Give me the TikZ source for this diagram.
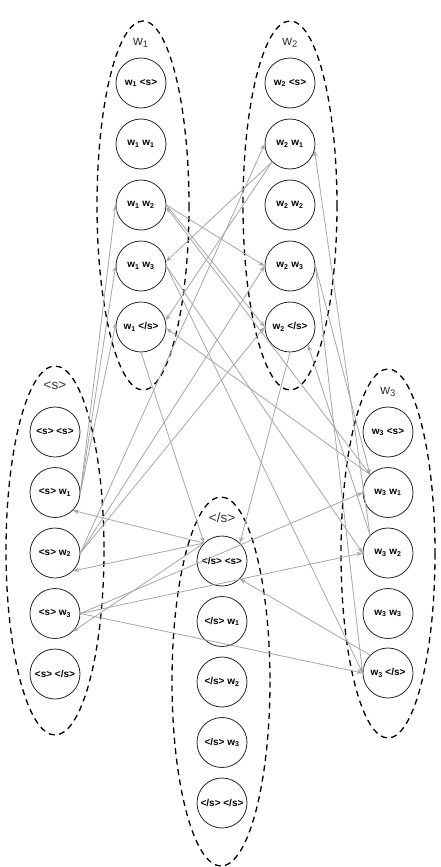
\documentclass[tikz,border=0pt]{standalone}
\usepackage{fontspec}
\setmainfont{Liberation Sans}
\usetikzlibrary{arrows.meta}
\newcommand\wsub[1]{w\textsubscript{#1}}
\begin{document}
\begin{tikzpicture}[x=1pt,y=-1pt,
  st/.style={circle,draw=black!85,line width=0.8pt,minimum size=50pt,inner sep=0pt,font=\bfseries\fontsize{10}{11}\selectfont},
  grp/.style={draw=black,line width=1.3pt,dash pattern=on 6pt off 4.5pt},
  glab/.style={font=\fontsize{13.5}{14}\selectfont,text=black!80},
  ed/.style={draw=black!35,line width=0.8pt,-{Stealth[length=6pt,width=4.5pt]}}]
\useasboundingbox (0,0) rectangle (441,867);
% groups
\draw[grp] (143,205.5) ellipse [x radius=46, y radius=184.5];
\draw[grp] (290,205.5) ellipse [x radius=47, y radius=184.5];
\draw[grp] (55,550.5) ellipse [x radius=49, y radius=184.5];
\draw[grp] (388,553.5) ellipse [x radius=47, y radius=184.5];
\draw[grp] (221,681.5) ellipse [x radius=49, y radius=184.5];
\node[glab] (l1) at (141,43) {\wsub{1}};
\node[glab] (l2) at (290,43) {\wsub{2}};
\node[glab] (ls) at (55,386) {<s>};
\node[glab] (l3) at (388,392) {\wsub{3}};
\node[glab] (le) at (222,518) {</s>};
% w1 group
\node[st] (a1s) at (141,83) {\wsub{1} <s>};
\node[st] (a11) at (141,144) {\wsub{1} \wsub{1}};
\node[st] (a12) at (141,205) {\wsub{1} \wsub{2}};
\node[st] (a13) at (141,266) {\wsub{1} \wsub{3}};
\node[st] (a1e) at (141,327) {\wsub{1} </s>};
% w2 group
\node[st] (a2s) at (290,83) {\wsub{2} <s>};
\node[st] (a21) at (290,144) {\wsub{2} \wsub{1}};
\node[st] (a22) at (290,205) {\wsub{2} \wsub{2}};
\node[st] (a23) at (290,266) {\wsub{2} \wsub{3}};
\node[st] (a2e) at (290,327) {\wsub{2} </s>};
% <s> group
\node[st] (sss) at (55,432) {<s> <s>};
\node[st] (ss1) at (55,492.5) {<s> \wsub{1}};
\node[st] (ss2) at (55,553) {<s> \wsub{2}};
\node[st] (ss3) at (55,613.5) {<s> \wsub{3}};
\node[st] (sse) at (55,674) {<s> </s>};
% w3 group
\node[st] (a3s) at (388,432) {\wsub{3} <s>};
\node[st] (a31) at (388,492.5) {\wsub{3} \wsub{1}};
\node[st] (a32) at (388,553) {\wsub{3} \wsub{2}};
\node[st] (a33) at (388,613.5) {\wsub{3} \wsub{3}};
\node[st] (a3e) at (388,673) {\wsub{3} </s>};
% </s> group
\node[st] (es) at (222,561) {</s> <s>};
\node[st] (e1) at (222,621.5) {</s> \wsub{1}};
\node[st] (e2) at (222,682) {</s> \wsub{2}};
\node[st] (e3) at (222,742.5) {</s> \wsub{3}};
\node[st] (ee) at (222,803) {</s> </s>};
% edges
\draw[ed] (ss1.east) -- (a12.west);
\draw[ed] (ss1.east) -- (a13.west);
\draw[ed] (ss1.east) -- (a1e.170);
\draw[ed] (ss2.east) -- (a21.west);
\draw[ed] (ss2.east) -- (a23.west);
\draw[ed] (ss2.east) -- (a2e.west);
\draw[ed] (ss3.east) -- (a31.west);
\draw[ed] (ss3.east) -- (a32.west);
\draw[ed] (ss3.east) -- (a3e.west);
\draw[ed] (es.north west) -- (ss1.south east);
\draw[ed] (es.north west) -- (ss2.south east);
\draw[ed] (es.north west) -- (ss3.south east);
\draw[ed] (a12.east) -- (a23.west);
\draw[ed] (a12.east) -- (a2e.west);
\draw[ed] (a13.east) -- (a32.west);
\draw[ed] (a13.east) -- (a3e.west);
\draw[ed] (a21.south west) -- (a13.10);
\draw[ed] (a21.south west) -- (a1e.15);
\draw[ed] (a23.east) -- (a31.north west);
\draw[ed] (a23.east) -- (a3e.west);
\draw[ed] (a31.north west) -- (a12.-5);
\draw[ed] (a31.north west) -- (a1e.-3);
\draw[ed] (a32.north west) -- (a21.-15);
\draw[ed] (a32.north west) -- (a2e.south east);
\draw[ed] (a1e.south) -- (es.north west);
\draw[ed] (a2e.south) -- (es.north east);
\draw[ed] (a3e.north west) -- (es.south east);
\end{tikzpicture}
\end{document}
